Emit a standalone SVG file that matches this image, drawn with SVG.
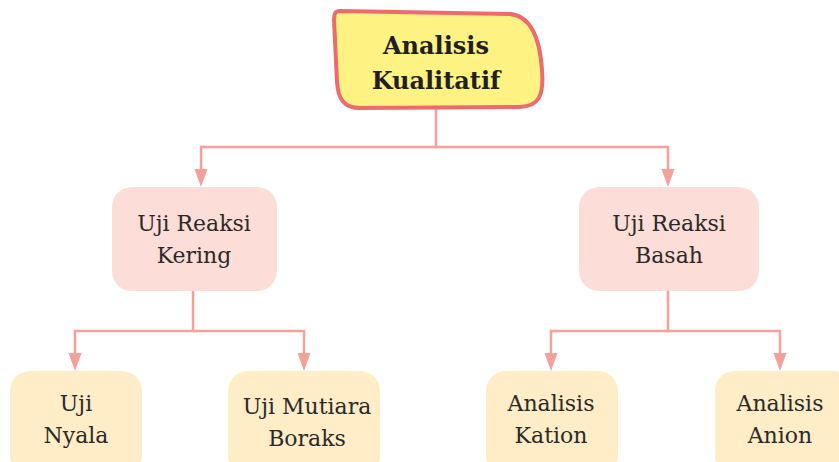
<svg xmlns="http://www.w3.org/2000/svg" width="839" height="462" viewBox="0 0 839 462">
  <defs>
    <marker id="arrow" markerWidth="14" markerHeight="18" refX="7" refY="0" orient="0" markerUnits="userSpaceOnUse" viewBox="0 0 14 18" overflow="visible">
      <path d="M0.5,0 L13.5,0 L7,18 Z" fill="#F5A19B"/>
    </marker>
    <style>
      .link { fill: none; stroke: #F5A19B; stroke-width: 2.5; }
      .lvl1 { fill: #FCDDD8; }
      .lvl2 { fill: #FEEDC6; }
      .lbl { font-family: "DejaVu Serif", "Liberation Serif", serif; font-size: 22px; fill: #2B2A29; text-anchor: middle; }
      .title { font-family: "DejaVu Serif", "Liberation Serif", serif; font-size: 24px; font-weight: bold; fill: #231F20; text-anchor: middle; }
    </style>
  </defs>
  <rect width="839" height="462" fill="#FFFFFF"/>

  <g id="connectors">
    <path class="link" d="M436,108 V147 H201 V169" marker-end="url(#arrow)"/>
    <path class="link" d="M436,147 H668 V169" marker-end="url(#arrow)"/>
    <path class="link" d="M193,291 V331 H75 V353" marker-end="url(#arrow)"/>
    <path class="link" d="M193,331 H304 V353" marker-end="url(#arrow)"/>
    <path class="link" d="M668,291 V331 H551 V353" marker-end="url(#arrow)"/>
    <path class="link" d="M668,331 H780 V353" marker-end="url(#arrow)"/>
  </g>

  <g id="node-analisis-kualitatif">
    <path d="M340,11 L510,14 C532,16 540,40 542,70 C544,96 539,106 520,107 L360,108 C344,108 338,99 337,82 L334,20 C334,14 335,11 340,11 Z" fill="#FEF282" stroke="#EE6A6E" stroke-width="4" stroke-linejoin="round"/>
    <text class="title" x="436" y="54">Analisis</text>
    <text class="title" x="436" y="89">Kualitatif</text>
  </g>

  <g id="node-uji-reaksi-kering">
    <rect class="lvl1" x="112" y="187" width="165" height="104" rx="20"/>
    <text class="lbl" x="194" y="231">Uji Reaksi</text>
    <text class="lbl" x="194" y="263">Kering</text>
  </g>

  <g id="node-uji-reaksi-basah">
    <rect class="lvl1" x="579" y="187" width="180" height="104" rx="20"/>
    <text class="lbl" x="669" y="231">Uji Reaksi</text>
    <text class="lbl" x="669" y="263">Basah</text>
  </g>

  <g id="node-uji-nyala">
    <rect class="lvl2" x="10" y="371" width="132" height="104" rx="20"/>
    <text class="lbl" x="76" y="411">Uji</text>
    <text class="lbl" x="76" y="443">Nyala</text>
  </g>

  <g id="node-uji-mutiara-boraks">
    <rect class="lvl2" x="228" y="371" width="152" height="104" rx="20"/>
    <text class="lbl" x="307" y="414">Uji Mutiara</text>
    <text class="lbl" x="307" y="446">Boraks</text>
  </g>

  <g id="node-analisis-kation">
    <rect class="lvl2" x="486" y="371" width="132" height="104" rx="20"/>
    <text class="lbl" x="551" y="411">Analisis</text>
    <text class="lbl" x="551" y="443">Kation</text>
  </g>

  <g id="node-analisis-anion">
    <rect class="lvl2" x="715" y="371" width="140" height="104" rx="20"/>
    <text class="lbl" x="780" y="411">Analisis</text>
    <text class="lbl" x="780" y="443">Anion</text>
  </g>
</svg>
